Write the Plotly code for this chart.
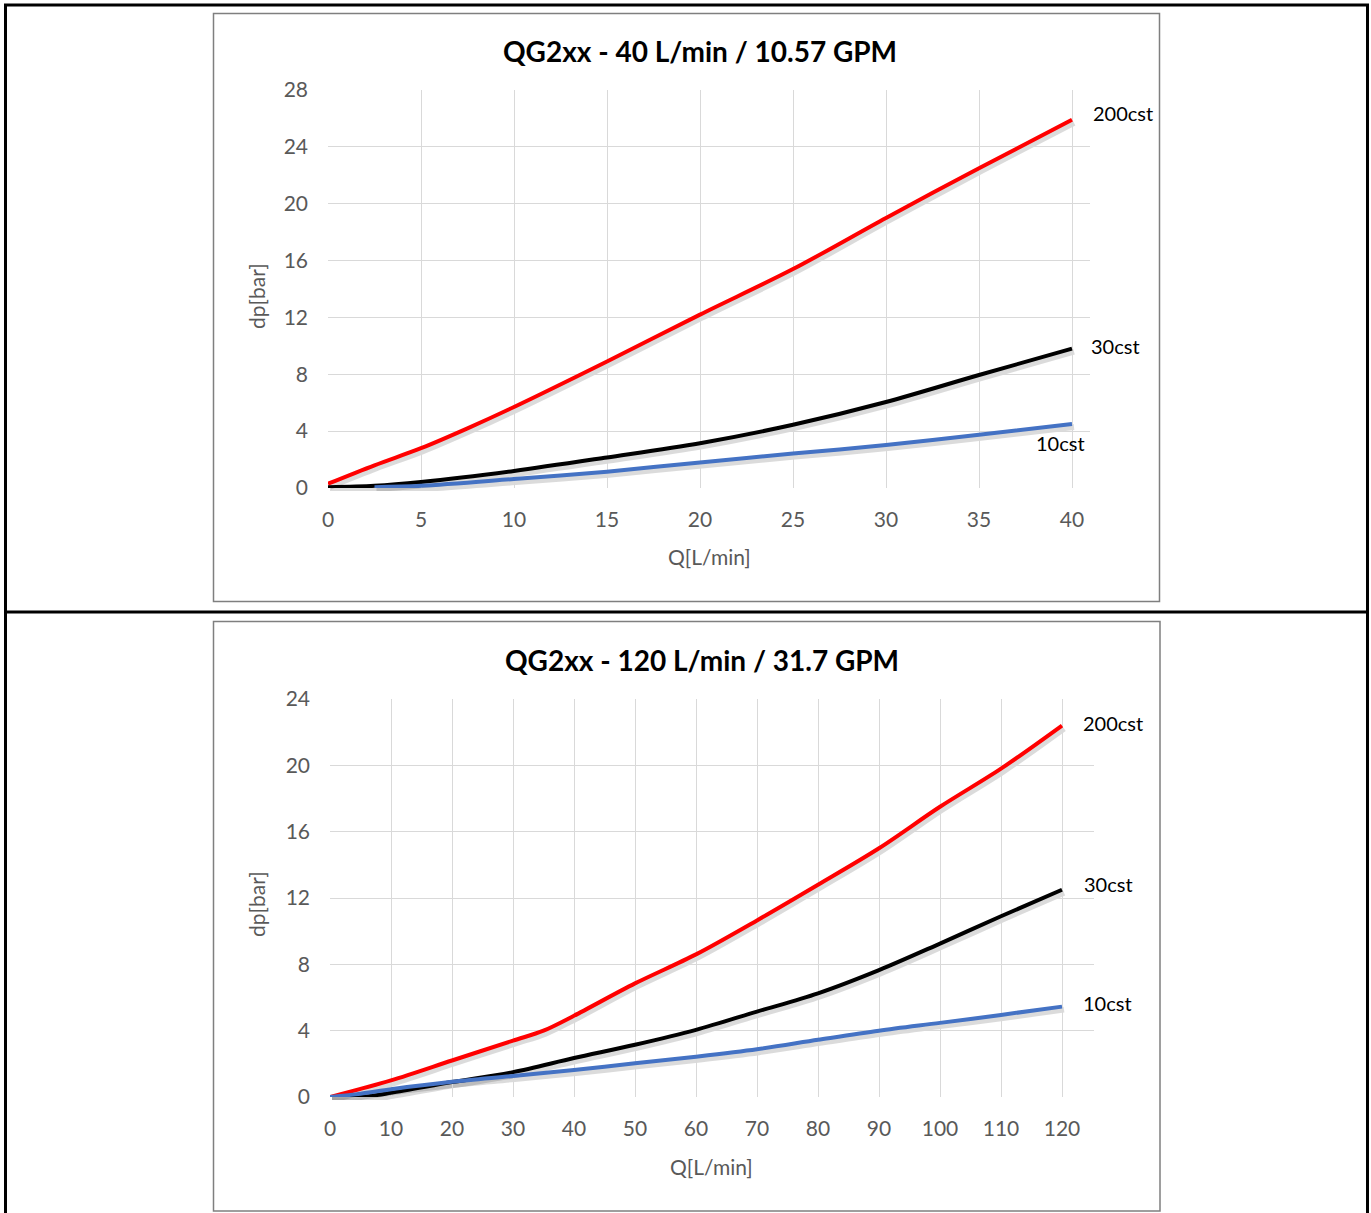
import plotly.graph_objects as go

W, H = 1371, 1213

# ---------- data: top chart (40 L/min) ----------
top_title = "QG2xx - 40 L/min / 10.57 GPM"
top_x_200 = [0, 2.5, 5, 7.5, 10, 15, 20, 25, 30, 35, 40]
top_y_200 = [0.3, 1.6, 2.8, 4.2, 5.7, 8.9, 12.2, 15.4, 19.0, 22.5, 25.9]
top_x_30 = [0, 2.5, 5, 10, 15, 20, 25, 30, 35, 40]
top_y_30 = [0.05, 0.15, 0.42, 1.2, 2.15, 3.15, 4.45, 6.05, 7.95, 9.8]
top_x_10 = [2.5, 5, 10, 15, 20, 25, 30, 35, 40]
top_y_10 = [0.05, 0.15, 0.63, 1.15, 1.8, 2.42, 3.02, 3.75, 4.5]
top_xticks = [0, 5, 10, 15, 20, 25, 30, 35, 40]
top_yticks = [0, 4, 8, 12, 16, 20, 24, 28]

# ---------- data: bottom chart (120 L/min) ----------
bot_title = "QG2xx - 120 L/min / 31.7 GPM"
bot_x_200 = [0, 10, 20, 30, 35, 40, 50, 60, 70, 80, 90, 100, 110, 120]
bot_y_200 = [0, 1.0, 2.2, 3.4, 4.0, 4.9, 6.85, 8.6, 10.65, 12.8, 15.0, 17.5, 19.8, 22.4]
bot_x_30 = [0, 5, 10, 20, 30, 40, 50, 60, 70, 80, 90, 100, 110, 120]
bot_y_30 = [0, 0.0, 0.25, 0.9, 1.5, 2.35, 3.15, 4.05, 5.15, 6.25, 7.65, 9.25, 10.9, 12.5]
bot_x_10 = [0, 5, 10, 20, 30, 40, 50, 60, 70, 80, 90, 100, 110, 120]
bot_y_10 = [0, 0.2, 0.47, 0.92, 1.27, 1.63, 2.03, 2.43, 2.88, 3.45, 4.0, 4.47, 4.95, 5.45]
bot_xticks = [0, 10, 20, 30, 40, 50, 60, 70, 80, 90, 100, 110, 120]
bot_yticks = [0, 4, 8, 12, 16, 20, 24]

series_names = ["200cst", "30cst", "10cst"]
series_colors = ["#ff0000", "#000000", "#4472c4"]

x_title = "Q[L/min]"
y_title = "dp[bar]"

FONT = "Lato"
TICK_COLOR = "#595959"
GRID = "#d9d9d9"


def px(x):
    return x / W


def py(y):
    return 1 - y / H


fig = go.Figure()

top_sets = [(top_x_200, top_y_200), (top_x_30, top_y_30), (top_x_10, top_y_10)]
bot_sets = [(bot_x_200, bot_y_200), (bot_x_30, bot_y_30), (bot_x_10, bot_y_10)]

# plot areas in pixels
top_area = dict(x0=328, x1=1090, y0=90, y1=488)
bot_area = dict(x0=330, x1=1094, y0=699, y1=1097)
top_xmax = 40 * (1090 - 328) / (1072 - 328)
bot_xmax = 120 * (1094 - 330) / (1062 - 330)

# soft shadows (same data, on hidden axes shifted by a few px) -> subplots xy, x2y2 (drawn first)
for sets, xa, ya in [(top_sets, "x", "y"), (bot_sets, "x2", "y2")]:
    for (xs, ys), name in zip(sets, series_names):
        fig.add_trace(go.Scatter(x=xs, y=ys, mode="lines",
                                 line=dict(color="rgba(0,0,0,0.14)", width=6, shape="spline", smoothing=0.9),
                                 xaxis=xa, yaxis=ya, showlegend=False, hoverinfo="skip"))

# main curves -> subplots x3y3, x4y4
for sets, xa, ya in [(top_sets, "x3", "y3"), (bot_sets, "x4", "y4")]:
    for (xs, ys), name, col in zip(sets, series_names, series_colors):
        fig.add_trace(go.Scatter(x=xs, y=ys, mode="lines", name=name,
                                 line=dict(color=col, width=4, shape="spline", smoothing=0.9),
                                 xaxis=xa, yaxis=ya, showlegend=False, hoverinfo="skip"))

axis_common = dict(showgrid=True, gridcolor=GRID, gridwidth=1, zeroline=False, automargin=False,
                   showline=False, ticks="", tickfont=dict(family=FONT, size=21, color=TICK_COLOR),
                   fixedrange=True)
hidden = dict(visible=False, fixedrange=True, automargin=False)

SX, SY = 2, 3
fig.update_layout(
    template="none",
    width=W, height=H, margin=dict(l=0, r=0, t=0, b=0, pad=0, autoexpand=False),
    paper_bgcolor="white", plot_bgcolor="rgba(0,0,0,0)", showlegend=False,
    xaxis=dict(domain=[px(top_area["x0"] + SX), px(top_area["x1"] + SX)], range=[0, top_xmax],
               anchor="y", **hidden),
    yaxis=dict(domain=[py(top_area["y1"] + SY), py(top_area["y0"] + SY)], range=[0, 28],
               anchor="x", **hidden),
    xaxis2=dict(domain=[px(bot_area["x0"] + SX), px(bot_area["x1"] + SX)], range=[0, bot_xmax],
                anchor="y2", **hidden),
    yaxis2=dict(domain=[py(bot_area["y1"] + SY), py(bot_area["y0"] + SY)], range=[0, 24],
                anchor="x2", **hidden),
    xaxis3=dict(domain=[px(top_area["x0"]), px(top_area["x1"])], range=[0, top_xmax],
                tickvals=top_xticks, anchor="y3", ticklabelstandoff=17, **axis_common),
    yaxis3=dict(domain=[py(top_area["y1"]), py(top_area["y0"])], range=[0, 28],
                tickvals=top_yticks, anchor="x3", ticklabelstandoff=19, **axis_common),
    xaxis4=dict(domain=[px(bot_area["x0"]), px(bot_area["x1"])], range=[0, bot_xmax],
                tickvals=bot_xticks, anchor="y4", ticklabelstandoff=17, **axis_common),
    yaxis4=dict(domain=[py(bot_area["y1"]), py(bot_area["y0"])], range=[0, 24],
                tickvals=bot_yticks, anchor="x4", ticklabelstandoff=19, **axis_common),
)

shapes = []
# outer table frame
shapes.append(dict(type="rect", xref="paper", yref="paper", x0=px(5.5), x1=px(1367.5),
                   y0=py(1216), y1=py(5), line=dict(color="black", width=3)))
shapes.append(dict(type="line", xref="paper", yref="paper", x0=px(5.5), x1=px(1367.5),
                   y0=py(612), y1=py(612), line=dict(color="black", width=3)))
# chart boxes
shapes.append(dict(type="rect", xref="paper", yref="paper", x0=px(213.5), x1=px(1159.5),
                   y0=py(601.5), y1=py(13.5), line=dict(color="#7f7f7f", width=1.5)))
shapes.append(dict(type="rect", xref="paper", yref="paper", x0=px(213.5), x1=px(1160),
                   y0=py(1211), y1=py(621.5), line=dict(color="#7f7f7f", width=1.5)))
fig.update_layout(shapes=shapes)

ann = []
title_font = dict(family=FONT, size=28, color="black")
ann.append(dict(text="<b>" + top_title + "</b>", xref="paper", yref="paper", x=px(700), y=py(51),
                xanchor="center", yanchor="middle", showarrow=False, font=title_font))
ann.append(dict(text="<b>" + bot_title + "</b>", xref="paper", yref="paper", x=px(702), y=py(660),
                xanchor="center", yanchor="middle", showarrow=False, font=title_font))
# axis titles
for xc, yc in [(709, 556), (711, 1166)]:
    ann.append(dict(text=x_title, xref="paper", yref="paper", x=px(xc), y=py(yc), showarrow=False,
                    xanchor="center", yanchor="middle",
                    font=dict(family=FONT, size=21, color=TICK_COLOR)))
for xc, yc in [(256, 296), (256, 904)]:
    ann.append(dict(text=y_title, xref="paper", yref="paper", x=px(xc), y=py(yc), showarrow=False,
                    xanchor="center", yanchor="middle", textangle=-90,
                    font=dict(family=FONT, size=21, color=TICK_COLOR)))

# series labels
lab_font = dict(family=FONT, size=20, color="black")
top_shifts = [("left", 19, 7), ("left", 17, 3), ("right", 15, -19)]
for (xs, ys), name, (anc, xs_, ys_) in zip(top_sets, series_names, top_shifts):
    ann.append(dict(text=name, x=xs[-1], y=ys[-1], xref="x3", yref="y3", showarrow=False,
                    xanchor=anc, yanchor="middle", xshift=xs_, yshift=ys_, font=lab_font))
bot_shifts = [("left", 19, 3), ("left", 20, 6), ("left", 19, 4)]
for (xs, ys), name, (anc, xs_, ys_) in zip(bot_sets, series_names, bot_shifts):
    ann.append(dict(text=name, x=xs[-1], y=ys[-1], xref="x4", yref="y4", showarrow=False,
                    xanchor=anc, yanchor="middle", xshift=xs_, yshift=ys_, font=lab_font))

fig.update_layout(annotations=ann)

fig.write_html("out.html", config={"displayModeBar": False},
               post_script="document.body.style.margin='0';document.body.style.overflow='hidden';")
